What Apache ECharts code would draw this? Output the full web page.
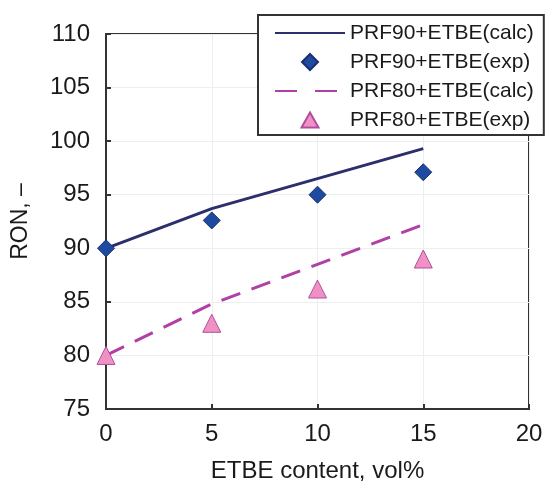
<!DOCTYPE html>
<html>
<head>
    <meta charset="utf-8">
    <title>RON vs ETBE</title>
    <script src="https://cdn.jsdelivr.net/npm/echarts@6/dist/echarts.min.js"></script>
    <style>
        html, body {margin: 0; padding: 0; background: #fff;}
        #main {width: 545px; height: 483px;}
    </style>
</head>
<body>
<div id="main"></div>
<script type="text/javascript">
    var etbe = [0, 5, 10, 15];
    var prf90Calc = [90, 93.7, 96.5, 99.3];
    var prf90Exp = [90, 92.6, 95.0, 97.1];
    var prf80Calc = [80, 84.8, 88.5, 92.2];
    var prf80Exp = [80, 83.0, 86.2, 89.0];
    var names = ['PRF90+ETBE(calc)', 'PRF90+ETBE(exp)', 'PRF80+ETBE(calc)', 'PRF80+ETBE(exp)'];

    function pairs(ys) {
        return etbe.map(function (x, i) { return [x, ys[i]]; });
    }

    // legend marks padded out to the 70x16 icon box so they don't get stretched
    var diamondIcon = 'path://M0,0 M70,16 M35,0 L43,8 L35,16 L27,8 Z';
    var triangleIcon = 'path://M0,0 M70,16 M35,0.5 L43.5,15.5 L26.5,15.5 Z';

    var font = 'Liberation Sans, Arial, sans-serif';
    var myChart = echarts.init(document.getElementById('main'));
    var option = {
        animation: false,
        textStyle: {fontFamily: font},
        grid: {
            left: 106, right: 16, top: 34, bottom: 74,
            outerBoundsMode: 'none',
            show: true, borderColor: '#333', borderWidth: 2
        },
        legend: {
            orient: 'vertical',
            left: 258, top: 15,
            padding: [7, 10, 4, 16],
            itemGap: 7,
            itemWidth: 70,
            itemHeight: 16,
            backgroundColor: '#fff',
            borderColor: '#333',
            borderWidth: 2,
            borderRadius: 0,
            textStyle: {fontSize: 21, lineHeight: 22, color: '#1a1a1a', fontFamily: font},
            data: [
                {name: names[0], itemStyle: {opacity: 0}},
                {name: names[1], icon: diamondIcon},
                {name: names[2], itemStyle: {opacity: 0}, lineStyle: {type: [22, 18]}},
                {name: names[3], icon: triangleIcon}
            ]
        },
        xAxis: {
            type: 'value', min: 0, max: 20, interval: 5,
            name: 'ETBE content, vol%',
            nameLocation: 'middle', nameGap: 50,
            nameTextStyle: {fontSize: 24, color: '#1a1a1a'},
            axisLine: {lineStyle: {color: '#333', width: 2}},
            axisTick: {inside: true, length: 5, lineStyle: {color: '#333', width: 2}},
            axisLabel: {fontSize: 24, color: '#1a1a1a', margin: 13},
            splitLine: {lineStyle: {color: '#eee', width: 1}}
        },
        yAxis: {
            type: 'value', min: 75, max: 110, interval: 5,
            name: 'RON, \u2013',
            nameLocation: 'middle', nameGap: 74, nameRotate: 90,
            nameTextStyle: {fontSize: 23, color: '#1a1a1a'},
            axisLine: {show: true, lineStyle: {color: '#333', width: 2}},
            axisTick: {show: true, inside: true, length: 5, lineStyle: {color: '#333', width: 2}},
            axisLabel: {fontSize: 24, color: '#1a1a1a', margin: 16},
            splitLine: {lineStyle: {color: '#eee', width: 1}}
        },
        series: [
            {
                name: names[0], type: 'line', data: pairs(prf90Calc),
                symbol: 'none', z: 2,
                lineStyle: {color: '#2b2f6c', width: 3},
                itemStyle: {color: '#2b2f6c'}
            },
            {
                name: names[1], type: 'scatter', data: pairs(prf90Exp),
                symbol: 'diamond', symbolSize: 17, z: 3,
                itemStyle: {color: '#1e4aa0', borderColor: '#1a2f70', borderWidth: 1, opacity: 1}
            },
            {
                name: names[2], type: 'line', data: pairs(prf80Calc),
                symbol: 'none', z: 2,
                lineStyle: {color: '#b03fa6', width: 3, type: [20, 12]},
                itemStyle: {color: '#b03fa6'}
            },
            {
                name: names[3], type: 'scatter', data: pairs(prf80Exp),
                symbol: 'triangle', symbolSize: 18, z: 3,
                itemStyle: {color: '#f091c6', borderColor: '#b04f9c', borderWidth: 1, opacity: 1}
            }
        ]
    };
    myChart.setOption(option);
</script>
</body>
</html>
